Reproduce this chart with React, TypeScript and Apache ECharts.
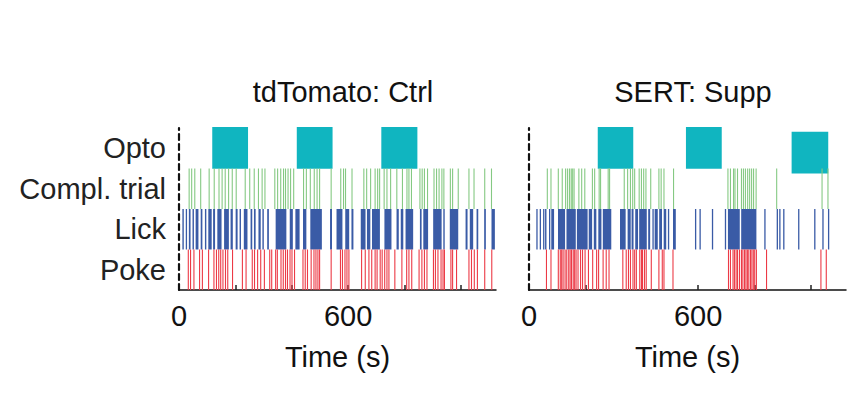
import React, { useEffect, useRef } from 'react';
import * as echarts from 'echarts';

const rows = ['Poke', 'Lick', 'Compl. trial', 'Opto'];
const panelTitles = ['tdTomato: Ctrl', 'SERT: Supp'];
const xTickLabels = [0, 600];
const xTickMarks = [200, 400, 600, 800, 1000];
const xMax = 1125;

// Left panel: tdTomato: Ctrl (times in s)
const leftOpto = [[118, 245], [418, 545], [718, 846]];
const leftCompl = [36, 45, 56, 77, 107, 125, 142, 153, 164, 176, 189, 203, 235, 251, 267, 282, 295, 305, 340, 350, 361, 371, 378, 387, 396, 407, 442, 452, 466, 480, 490, 499, 540, 574, 584, 591, 614, 656, 666, 680, 696, 705, 712, 728, 738, 751, 773, 793, 809, 816, 825, 855, 863, 871, 882, 905, 914, 923, 933, 940, 963, 971, 991, 1029, 1047, 1085, 1109];
const leftLick = [[12, 17], [24, 28], [35, 41], [48, 53], [59, 69], [77, 83], [92, 97], [104, 116], [121, 128], [136, 151], [160, 177], [183, 191], [201, 208], [215, 220], [230, 243], [254, 260], [266, 272], [282, 290], [296, 301], [313, 319], [343, 381], [393, 404], [413, 428], [440, 452], [466, 507], [536, 543], [559, 580], [590, 604], [612, 619], [645, 662], [667, 679], [685, 713], [729, 754], [772, 780], [787, 796], [804, 831], [855, 861], [867, 884], [902, 932], [938, 943], [961, 991], [1017, 1024], [1032, 1044], [1056, 1062], [1083, 1089], [1109, 1121]];
const leftPoke = [33, 41, 53, 73, 83, 105, 124, 133, 141, 148, 156, 165, 173, 190, 225, 238, 260, 268, 279, 290, 303, 322, 329, 343, 349, 362, 370, 378, 385, 394, 401, 410, 440, 448, 456, 469, 479, 486, 493, 499, 540, 573, 580, 589, 596, 603, 648, 661, 674, 684, 696, 703, 714, 721, 730, 738, 745, 766, 791, 808, 816, 826, 852, 862, 871, 880, 903, 910, 919, 930, 937, 942, 965, 971, 985, 1029, 1038, 1048, 1059, 1085, 1110];

// Right panel: SERT: Supp
const rightOpto = [[244, 370], [557, 684], [932, 1062]];
const rightOptoShift = [0, 0, 0.12];
const rightCompl = [65, 78, 104, 118, 130, 137, 144, 150, 155, 160, 177, 187, 198, 225, 233, 249, 254, 281, 286, 338, 350, 360, 368, 375, 391, 399, 407, 415, 432, 461, 469, 479, 513, 706, 715, 726, 731, 740, 754, 761, 768, 776, 783, 790, 797, 806, 879, 1040, 1061];
const rightLick = [[26, 29], [38, 41], [50, 52], [57, 62], [71, 74], [79, 89], [103, 128], [133, 166], [170, 208], [212, 224], [230, 239], [246, 257], [262, 292], [323, 343], [350, 361], [364, 371], [377, 387], [391, 418], [423, 430], [438, 440], [446, 457], [462, 472], [478, 487], [493, 495], [511, 521], [589, 591], [605, 607], [649, 651], [695, 697], [706, 748], [753, 807], [835, 838], [879, 882], [888, 890], [902, 905], [955, 957], [1012, 1015], [1041, 1043], [1061, 1063]];
const rightPoke = [62, 78, 104, 111, 116, 121, 128, 134, 141, 146, 151, 157, 162, 167, 174, 183, 190, 199, 211, 226, 240, 247, 263, 274, 284, 333, 345, 353, 360, 369, 375, 381, 393, 399, 403, 410, 416, 434, 461, 473, 479, 511, 708, 715, 724, 729, 735, 740, 747, 754, 759, 765, 770, 775, 780, 786, 791, 796, 801, 807, 843, 1036, 1055];

const FONT = '"Liberation Sans", Arial, Helvetica, sans-serif';
const FS = 29;
const C_OPTO = '#10b5c0';
const C_COMPL = '#85c983';
const C_LICK = '#3a5ba6';
const C_POKE = '#ec3a46';

function eventItem(color: string, w: number) {
  return (_p: any, api: any) => {
    const p = api.coord([api.value(0), api.value(1)]);
    const h = api.size([0, 1])[1];
    return {
      type: 'rect',
      shape: { x: p[0] - w / 2, y: p[1] - h / 2, width: w, height: h },
      style: { fill: color },
    };
  };
}

function boutItem(color: string, minW: number) {
  return (_p: any, api: any) => {
    const a = api.coord([api.value(0), api.value(2)]);
    const b = api.coord([api.value(1), api.value(2)]);
    const h = api.size([0, 1])[1];
    const w = Math.max(minW, b[0] - a[0]);
    return {
      type: 'rect',
      shape: { x: a[0], y: a[1] - h / 2, width: w, height: h },
      style: { fill: color },
    };
  };
}

function optoItem(color: string) {
  return (_p: any, api: any) => {
    const a = api.coord([api.value(0), api.value(2)]);
    const b = api.coord([api.value(1), api.value(2)]);
    const h = api.size([0, 1])[1];
    const shift = api.value(3) * h;
    return {
      type: 'rect',
      shape: { x: a[0], y: a[1] - h / 2 + shift - 1, width: b[0] - a[0], height: h * 1.03 },
      style: { fill: color },
    };
  };
}

function panelSeries(idx: number, opto: number[][], shifts: number[], compl: number[], lick: number[][], poke: number[]) {
  const optoIdx = rows.indexOf('Opto');
  const complIdx = rows.indexOf('Compl. trial');
  const lickIdx = rows.indexOf('Lick');
  const pokeIdx = rows.indexOf('Poke');
  return [
    {
      type: 'custom', xAxisIndex: idx, yAxisIndex: idx, renderItem: optoItem(C_OPTO),
      encode: { x: [0, 1], y: 2 },
      data: opto.map((o, i) => [o[0], o[1], optoIdx, shifts[i] || 0]),
    },
    {
      type: 'custom', xAxisIndex: idx, yAxisIndex: idx, renderItem: eventItem(C_COMPL, 1.1),
      encode: { x: 0, y: 1 },
      data: compl.map((t) => [t, complIdx]),
    },
    {
      type: 'custom', xAxisIndex: idx, yAxisIndex: idx, renderItem: boutItem(C_LICK, 1.3),
      encode: { x: [0, 1], y: 2 },
      data: lick.map((b) => [b[0], b[1], lickIdx]),
    },
    {
      type: 'custom', xAxisIndex: idx, yAxisIndex: idx, renderItem: eventItem(C_POKE, 1.1),
      encode: { x: 0, y: 1 },
      data: poke.map((t) => [t, pokeIdx]),
    },
  ];
}

export default function App() {
  const ref = useRef<HTMLDivElement>(null);
  useEffect(() => {
    if (!ref.current) return;
    const chart = echarts.init(ref.current, undefined, { renderer: 'svg' });
    const lefts = [179, 529];
    const option: any = {
      animation: false,
      backgroundColor: '#ffffff',
      textStyle: { fontFamily: FONT },
      title: panelTitles.map((t, i) => ({
        text: t,
        left: lefts[i] + 159,
        top: 72,
        textAlign: 'center',
        textStyle: { fontSize: FS, fontWeight: 'normal', color: '#111', fontFamily: FONT },
      })),
      grid: lefts.map((l) => ({ left: l, top: 128, width: 317, height: 162, containLabel: false })),
      xAxis: lefts.map((_l, i) => ({
        type: 'value',
        gridIndex: i,
        min: 0,
        max: xMax,
        splitLine: { show: false },
        axisLine: { show: true, lineStyle: { color: '#111', width: 1.5 } },
        axisTick: { show: true, inside: true, length: 5, customValues: xTickMarks, lineStyle: { color: '#222', width: 1.5 } },
        axisLabel: { customValues: xTickLabels, fontSize: FS, margin: 11, color: '#111', fontFamily: FONT },
        name: 'Time (s)',
        nameLocation: 'middle',
        nameGap: 52,
        nameTextStyle: { fontSize: FS, color: '#111', fontFamily: FONT },
      })),
      yAxis: lefts.map((_l, i) => ({
        type: 'category',
        gridIndex: i,
        data: rows,
        axisLine: { show: true, lineStyle: { color: '#111', width: 2.2, type: [6, 4] } },
        axisTick: { show: false },
        splitLine: { show: false },
        axisLabel: { show: i === 0, fontSize: FS, color: '#222', margin: 13, padding: [6, 0, 0, 0], fontFamily: FONT },
      })),
      series: [
        ...panelSeries(0, leftOpto, [], leftCompl, leftLick, leftPoke),
        ...panelSeries(1, rightOpto, rightOptoShift, rightCompl, rightLick, rightPoke),
      ],
    };
    chart.setOption(option);
    return () => chart.dispose();
  }, []);
  return <div ref={ref} style={{ position: 'fixed', left: 0, top: 0, width: 867, height: 396 }} />;
}
